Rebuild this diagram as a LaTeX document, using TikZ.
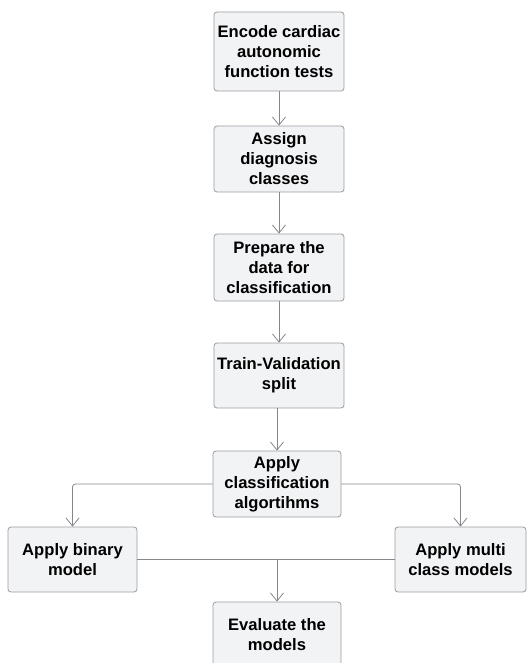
\documentclass[tikz,border=0pt]{standalone}
\usepackage{fontspec}
\setmainfont{Liberation Sans}
\usetikzlibrary{arrows.meta}
\definecolor{boxfill}{HTML}{F2F3F5}
\definecolor{boxborder}{HTML}{9A9CA0}
\definecolor{linec}{HTML}{85878B}
\begin{document}
\begin{tikzpicture}[x=1pt,y=-1pt,
  box/.style={draw=boxborder, fill=boxfill, rounded corners=3pt, minimum width=130pt,
    align=center, font=\bfseries\fontsize{16.6}{20}\selectfont, inner sep=0pt, line width=0.8pt},
  conn/.style={draw=linec, line width=0.8pt, -{Straight Barb[length=8pt,width=13pt,line width=0.8pt]}},
  plain/.style={draw=linec, line width=0.8pt}]
\useasboundingbox (0,0) rectangle (527,663);
\clip (0,0) rectangle (527,663);
\node[box, minimum height=79pt] (b1) at (279,51.5) {Encode cardiac\\autonomic\\function tests};
\node[box, minimum height=66pt] (b2) at (279,159) {Assign\\diagnosis\\classes};
\node[box, minimum height=67pt] (b3) at (279,267.5) {Prepare the\\data for\\classification};
\node[box, minimum height=65pt] (b4) at (279,375.5) {Train-Validation\\split};
\node[box, minimum height=66pt, minimum width=128pt] (b5) at (277,484) {Apply\\classification\\algortihms};
\node[box, minimum height=65pt, minimum width=129pt] (bin) at (72.5,559.5) {Apply binary\\model};
\node[box, minimum height=65pt, minimum width=131pt] (multi) at (460.5,559.5) {Apply multi\\class models};
\node[box, minimum height=66pt, minimum width=128pt] (eval) at (277,635) {Evaluate the\\models};
\draw[conn] (b1.south) -- (b2.north);
\draw[conn] (b2.south) -- (b3.north);
\draw[conn] (b3.south) -- (b4.north);
\draw[conn] (b4.south -| b5.north) -- (b5.north);
\draw[conn, rounded corners=3pt] (b5.west) -| (bin.north);
\draw[conn, rounded corners=3pt] (b5.east) -| (multi.north);
\draw[plain] (bin.east) -- (multi.west);
\coordinate (jn) at (bin.east -| eval.north);
\draw[conn] (jn) -- (eval.north);
\end{tikzpicture}
\end{document}
